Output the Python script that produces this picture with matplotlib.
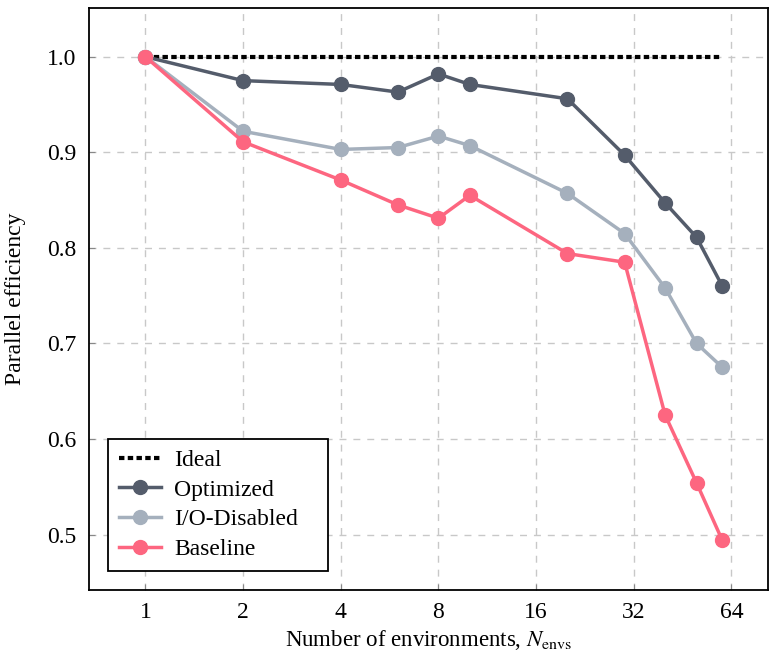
import matplotlib
matplotlib.use("Agg")
import matplotlib.pyplot as plt

plt.rcParams['font.family'] = ['Liberation Serif', 'DejaVu Serif']
plt.rcParams['mathtext.fontset'] = 'stix'

# data
n_envs = [1, 2, 4, 6, 8, 10, 20, 30, 40, 50, 60]
ideal = [1.0] * len(n_envs)
optimized = [1.0, 0.975, 0.971, 0.963, 0.982, 0.971, 0.956, 0.897, 0.847, 0.811, 0.760]
io_disabled = [1.0, 0.922, 0.903, 0.905, 0.917, 0.907, 0.857, 0.815, 0.758, 0.700, 0.675]
baseline = [1.0, 0.911, 0.871, 0.845, 0.831, 0.855, 0.794, 0.785, 0.625, 0.554, 0.494]
xticks = [1, 2, 4, 8, 16, 32, 64]
yticks = [0.5, 0.6, 0.7, 0.8, 0.9, 1.0]

fig = plt.figure(figsize=(7.69, 6.56), dpi=100)
ax = fig.add_axes([89 / 769, 66 / 656, 679 / 769, 582 / 656])

ax.plot(n_envs, ideal, color='black', ls=(0, (1.3, 0.8)), lw=3, label='Ideal', zorder=3)
ax.plot(n_envs, optimized, color='#545c6b', lw=2.5, marker='o', ms=10, label='Optimized', zorder=4)
ax.plot(n_envs, io_disabled, color='#a5b0bd', lw=2.5, marker='o', ms=10, label='I/O-Disabled', zorder=4)
ax.plot(n_envs, baseline, color='#fd6680', lw=2.5, marker='o', ms=10, label='Baseline', zorder=5)

ax.set_xscale('log', base=2)
ax.set_xlim(0.67, 83)
ax.set_ylim(0.442, 1.051)
ax.set_xticks(xticks)
ax.set_xticklabels([str(t) for t in xticks])
ax.minorticks_off()
ax.set_yticks(yticks)
ax.set_yticklabels([f"{t:.1f}" for t in yticks])
ax.tick_params(direction='in', labelsize=17, length=4, color='#888888', pad=9)

ax.grid(True, ls=(0, (5, 5)), color='#c8c8c8', lw=1)
ax.set_axisbelow(True)
for s in ax.spines.values():
    s.set_linewidth(1.3)

ax.set_xlabel(r"Number of environments, $N_\mathrm{envs}$", fontsize=16.5, labelpad=3)
ax.set_ylabel("Parallel efficiency", fontsize=17)
ax.yaxis.set_label_coords(-0.093, 0.5)

leg = ax.legend(loc='lower left', bbox_to_anchor=(0.028, 0.033, 0.324, 0.2), mode='expand',
                borderaxespad=0, fontsize=17, fancybox=False,
                edgecolor='black', framealpha=1, handlelength=1.8, borderpad=0.45, labelspacing=0.35,
                handletextpad=0.55)
leg.get_frame().set_linewidth(1.3)

fig.savefig("out.png", dpi=100)
